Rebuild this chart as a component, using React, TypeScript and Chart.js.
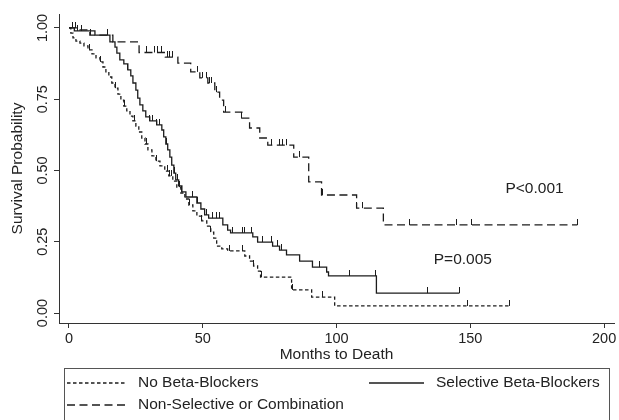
import React, { useEffect, useRef } from "react";
import { Chart, registerables } from "chart.js";

Chart.register(...registerables);

// ---------- data ----------
const X_TICKS = [0, 50, 100, 150, 200];
const Y_TICKS = [0, 0.25, 0.5, 0.75, 1];
const Y_TICK_LABELS = ["0.00", "0.25", "0.50", "0.75", "1.00"];
const X_TITLE = "Months to Death";
const Y_TITLE = "Survival Probability";

const SERIES_NAMES = [
  "No Beta-Blockers",
  "Selective Beta-Blockers",
  "Non-Selective or Combination",
];

// No Beta-Blockers (short dashes)
const NONE_T = [0, 0.7, 1.5, 2.6, 4.1, 5.6, 7.1, 8.6, 10.1, 11.6, 12.7, 13.8, 14.9, 16, 17.2, 18.3, 19.4, 20.5, 21.6, 22.8, 23.9, 25, 26.1, 27.2, 28.4, 29.5, 31, 32.5, 34, 35.8, 37.3, 38.8, 40.3, 41.8, 43.3, 44.8, 46.3, 47.8, 49.6, 51.5, 53, 54.1, 55.2, 57.1, 59.3, 65.7, 67.5, 69, 70.5, 71.6, 83.2, 90.7, 99.3, 164.6];
const NONE_S = [1, 0.982, 0.965, 0.954, 0.947, 0.937, 0.923, 0.909, 0.895, 0.881, 0.863, 0.846, 0.828, 0.807, 0.789, 0.768, 0.747, 0.726, 0.709, 0.691, 0.674, 0.656, 0.635, 0.614, 0.593, 0.572, 0.551, 0.533, 0.516, 0.498, 0.481, 0.463, 0.442, 0.421, 0.4, 0.379, 0.358, 0.34, 0.323, 0.305, 0.284, 0.263, 0.235, 0.225, 0.218, 0.2, 0.182, 0.165, 0.147, 0.126, 0.081, 0.056, 0.025, 0.025];
const NONE_CENSOR = [7.8, 11.6, 17.5, 20.9, 24.6, 29.1, 32.8, 36.9, 37.7, 38.2, 41.4, 45.1, 49.6, 53, 60.1, 64.9, 69, 72, 83.6, 94.8, 148.9, 164.6];

// Selective Beta-Blockers (solid)
const SEL_T = [0, 2, 9.7, 15.3, 17.2, 17.9, 19, 20.5, 22, 23.1, 23.9, 25, 25.7, 26.5, 27.6, 28.7, 30.2, 32.8, 34.7, 35.4, 36.2, 36.9, 37.7, 38.4, 39.2, 39.9, 41, 42.2, 43.7, 47.8, 49.3, 50.7, 52.2, 57.5, 59.3, 60.4, 68.7, 70.5, 76.1, 78.7, 81.3, 86.2, 91, 96.3, 97, 114.9, 145.9];
const SEL_S = [1, 0.99, 0.975, 0.951, 0.933, 0.912, 0.888, 0.874, 0.853, 0.832, 0.807, 0.782, 0.754, 0.73, 0.709, 0.688, 0.674, 0.66, 0.642, 0.618, 0.593, 0.572, 0.547, 0.519, 0.491, 0.467, 0.446, 0.425, 0.407, 0.386, 0.365, 0.344, 0.333, 0.309, 0.291, 0.281, 0.267, 0.249, 0.235, 0.221, 0.204, 0.182, 0.161, 0.144, 0.13, 0.07, 0.07];
const SEL_CENSOR = [1.5, 3, 4.5, 22, 30.2, 31.3, 32.8, 34, 36.6, 39.6, 40.7, 42.2, 46.3, 48.1, 51.5, 53.7, 55.2, 56.3, 61.2, 64.9, 65.7, 68.3, 72.4, 75.7, 78, 79.5, 93.7, 104.9, 114.5, 134, 145.9];

// Non-Selective or Combination (long dashes)
const NSEL_T = [0, 4, 7.8, 16.4, 26.2, 36, 40.7, 45.5, 48.9, 51.9, 54.5, 56.3, 57.8, 64.6, 67.5, 71.3, 74.3, 84, 89.6, 94.4, 107.5, 117.5, 190];
const NSEL_S = [1, 0.993, 0.975, 0.951, 0.914, 0.898, 0.877, 0.846, 0.825, 0.807, 0.775, 0.747, 0.705, 0.684, 0.649, 0.614, 0.589, 0.547, 0.46, 0.414, 0.368, 0.309, 0.309];
const NSEL_CENSOR = [2.5, 8, 14.5, 29.1, 32.1, 33.2, 34.7, 36.9, 37.7, 38.8, 48.1, 50, 51.5, 52.6, 53.4, 55.2, 58.6, 64.6, 75.7, 78.7, 79.9, 81.3, 86.2, 94.8, 107.5, 109.7, 127.2, 144.8, 150.4, 190];

const ANNOTATIONS = [
  { text: "P<0.001", x: 174, y: 0.437 },
  { text: "P=0.005", x: 147.2, y: 0.186 },
];

// ---------- style ----------
const FONT = "'Liberation Sans', Arial, Helvetica, sans-serif";
const TEXT_COLOR = "#222";
const LINE_COLOR = "#1c1c1c";
const AXIS_COLOR = "#333";
const TICK_SIZE = 14.5;
const LABEL_SIZE = 15.5;
const DASHES = [[3.5, 2.5], [], [8, 4.5]];

function survAt(T: number[], S: number[], t: number) {
  let s = S[0];
  for (let i = 0; i < T.length; i++) {
    if (T[i] <= t) s = S[i];
    else break;
  }
  return s;
}

function makeTick(color: string) {
  const c = document.createElement("canvas");
  c.width = 1;
  c.height = 12;
  const g = c.getContext("2d")!;
  g.fillStyle = color;
  g.fillRect(0, 0, 1, 6);
  return c;
}

const overlay = {
  id: "overlay",
  afterDraw(chart: any) {
    const ctx = chart.ctx;
    const xs = chart.scales.x;
    const ys = chart.scales.y;
    ctx.save();
    ctx.fillStyle = TEXT_COLOR;
    // rotated y tick labels
    ctx.font = `${TICK_SIZE}px ${FONT}`;
    ctx.textAlign = "center";
    ctx.textBaseline = "alphabetic";
    Y_TICKS.forEach((v, i) => {
      const py = ys.getPixelForValue(v);
      ctx.save();
      ctx.translate(46.5, py);
      ctx.rotate(-Math.PI / 2);
      ctx.fillText(Y_TICK_LABELS[i], 0, 0);
      ctx.restore();
    });
    // p-value annotations
    ctx.font = `${LABEL_SIZE}px ${FONT}`;
    ctx.textBaseline = "middle";
    ANNOTATIONS.forEach((a) => {
      ctx.fillText(a.text, xs.getPixelForValue(a.x), ys.getPixelForValue(a.y));
    });
    // legend box
    const boxL = 64, boxR = 609, boxT = 368;
    ctx.strokeStyle = "#555";
    ctx.lineWidth = 1;
    ctx.strokeRect(boxL + 0.5, boxT + 0.5, boxR - boxL, 80);
    const rows = [383, 383, 405];
    const sampleX = [[67, 126], [369, 424], [67, 126]];
    const textX = [138, 436, 138];
    ctx.textAlign = "left";
    ctx.textBaseline = "middle";
    SERIES_NAMES.forEach((name, i) => {
      ctx.save();
      ctx.strokeStyle = LINE_COLOR;
      ctx.lineWidth = 1.3;
      ctx.setLineDash(DASHES[i]);
      ctx.beginPath();
      ctx.moveTo(sampleX[i][0], rows[i]);
      ctx.lineTo(sampleX[i][1], rows[i]);
      ctx.stroke();
      ctx.restore();
      ctx.fillText(name, textX[i], rows[i]);
    });
    ctx.restore();
  },
};

export default function App() {
  const ref = useRef<HTMLCanvasElement | null>(null);
  useEffect(() => {
    if (!ref.current) return;
    const tick = makeTick(LINE_COLOR);
    const curves = [
      [NONE_T, NONE_S, NONE_CENSOR],
      [SEL_T, SEL_S, SEL_CENSOR],
      [NSEL_T, NSEL_S, NSEL_CENSOR],
    ] as number[][][];
    const datasets: any[] = [];
    curves.forEach(([T, S, C], i) => {
      datasets.push({
        type: "line",
        label: SERIES_NAMES[i],
        data: T.map((t, k) => ({ x: t, y: S[k] })),
        stepped: true,
        borderColor: LINE_COLOR,
        borderWidth: 1.3,
        borderDash: DASHES[i],
        pointRadius: 0,
        fill: false,
        tension: 0,
      });
      datasets.push({
        type: "scatter",
        label: SERIES_NAMES[i] + " censored",
        data: C.map((t) => ({ x: t, y: survAt(T, S, t) })),
        pointStyle: tick,
        pointRadius: 3,
        showLine: false,
      });
    });
    const chart = new Chart(ref.current, {
      type: "line",
      data: { datasets },
      plugins: [overlay],
      options: {
        animation: false,
        responsive: false,
        devicePixelRatio: 1,
        layout: { padding: { left: 0, right: 4, top: 14, bottom: 55 } },
        plugins: { legend: { display: false }, tooltip: { enabled: false } },
        scales: {
          x: {
            type: "linear",
            min: -3.73,
            max: 203.7,
            afterBuildTicks: (s: any) => {
              s.ticks = X_TICKS.map((v) => ({ value: v }));
            },
            afterFit: (s: any) => {
              s.height = 42;
            },
            grid: { drawOnChartArea: false, drawTicks: true, tickLength: 5, color: AXIS_COLOR },
            border: { display: true, color: AXIS_COLOR, width: 1 },
            ticks: {
              color: TEXT_COLOR,
              font: { family: FONT, size: TICK_SIZE },
              padding: 2,
              maxRotation: 0,
              callback: (v: any) => String(v),
            },
            title: {
              display: true,
              text: X_TITLE,
              color: TEXT_COLOR,
              font: { family: FONT, size: LABEL_SIZE },
              padding: { top: 0, bottom: 1 },
            },
          },
          y: {
            type: "linear",
            min: -0.035,
            max: 1.049,
            afterBuildTicks: (s: any) => {
              s.ticks = Y_TICKS.map((v) => ({ value: v }));
            },
            afterFit: (s: any) => {
              s.width = 59;
            },
            grid: { drawOnChartArea: false, drawTicks: true, tickLength: 5, color: AXIS_COLOR },
            border: { display: true, color: AXIS_COLOR, width: 1 },
            ticks: { display: false },
            title: {
              display: true,
              text: Y_TITLE,
              color: TEXT_COLOR,
              font: { family: FONT, size: LABEL_SIZE },
              padding: { top: 8.5, bottom: 0 },
            },
          },
        },
      } as any,
    });
    return () => chart.destroy();
  }, []);
  return (
    <div style={{ position: "fixed", left: 0, top: 0, width: 619, height: 420, background: "#fff" }}>
      <canvas ref={ref} width={619} height={420} style={{ width: 619, height: 420, display: "block" }} />
    </div>
  );
}
